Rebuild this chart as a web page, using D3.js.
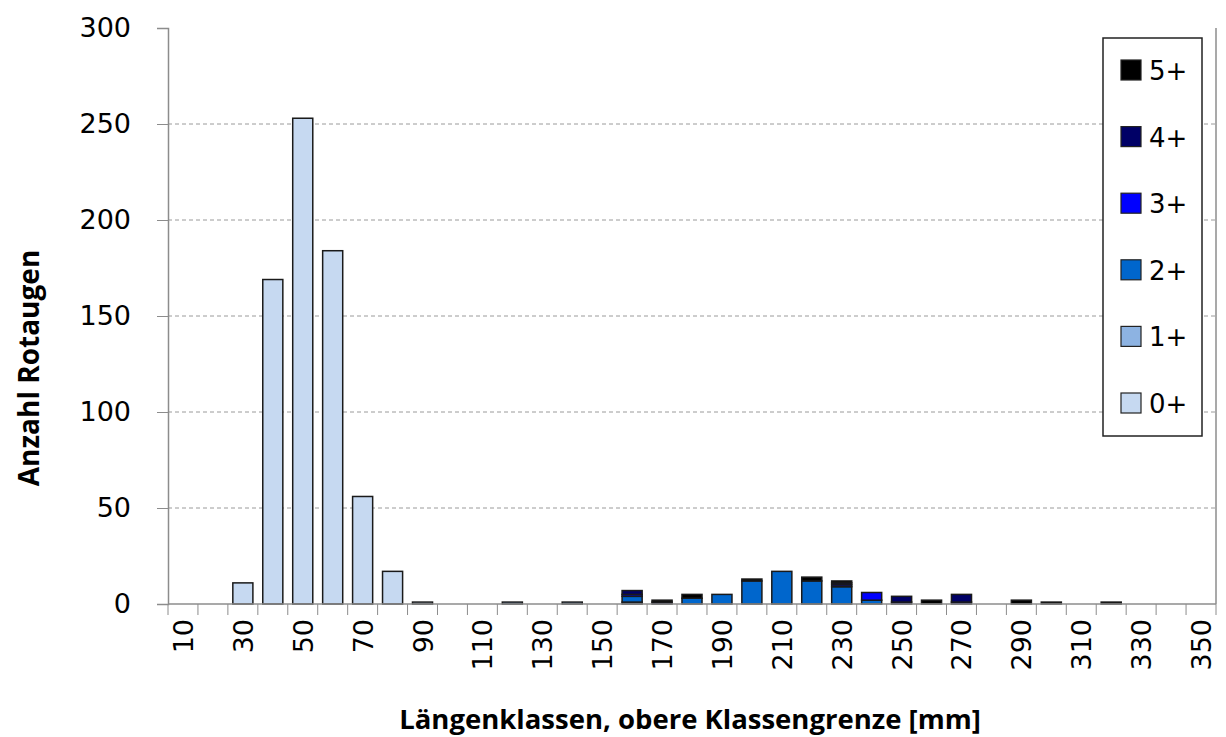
<!DOCTYPE html>
<html>
<head>
<meta charset="utf-8">
<script src="https://cdn.jsdelivr.net/npm/d3@7"></script>
<style>
  body { margin: 0; background: #fff; }
  svg { display: block; }
</style>
</head>
<body>
<svg id="chart"></svg>
<script>
// length classes (upper class limit, mm)
const categories = d3.range(10, 360, 10);

// counts per age group, one value per length class (10 ... 350)
const age0 = [0,0,11,169,253,184,56,17,1,0, 0,0,0,0,0,0,0,0,0,0, 0,0,0,0,0,0,0,0,0,0, 0,0,0,0,0];
const age1 = [0,0,0,0,0,0,0,0,0,0, 0,1,0,1,0,1,0,0,0,0, 0,0,0,0,0,0,0,0,0,0, 0,0,0,0,0];
const age2 = [0,0,0,0,0,0,0,0,0,0, 0,0,0,0,0,3,0,3,5,12, 17,12,9,2,0,0,0,0,0,0, 0,0,0,0,0];
const age3 = [0,0,0,0,0,0,0,0,0,0, 0,0,0,0,0,1,0,0,0,0, 0,0,1,4,1,0,1,0,0,0, 0,0,0,0,0];
const age4 = [0,0,0,0,0,0,0,0,0,0, 0,0,0,0,0,2,1,0,0,0, 0,0,1,0,3,0,4,0,0,0, 0,0,0,0,0];
const age5 = [0,0,0,0,0,0,0,0,0,0, 0,0,0,0,0,0,1,2,0,1, 0,2,1,0,0,2,0,0,2,1, 0,1,0,0,0];

const seriesNames = ["0+", "1+", "2+", "3+", "4+", "5+"];
const seriesColors = ["#c6d9f1", "#8db3e2", "#0066cc", "#0000ff", "#000066", "#000000"];
const yTicks = [0, 50, 100, 150, 200, 250, 300];
const xLabels = categories.filter((d, i) => i % 2 === 0);

const allSeries = [age0, age1, age2, age3, age4, age5];
const table = categories.map((c, i) => {
  const row = { cat: c };
  seriesNames.forEach((s, k) => row[s] = allSeries[k][i]);
  return row;
});

const svgWidth = 1226, svgHeight = 737;
const plotLeft = 168, plotRight = 1216, plotTop = 28, plotBottom = 604;

const svg = d3.select("#chart")
  .attr("width", svgWidth)
  .attr("height", svgHeight)
  .style("font-family", "'DejaVu Sans', Verdana, sans-serif");

const x = d3.scaleBand()
  .domain(categories)
  .range([plotLeft, plotRight])
  .paddingInner(0.33)
  .paddingOuter(0.165);

const y = d3.scaleLinear()
  .domain([0, 300])
  .range([plotBottom, plotTop]);

// dashed gridlines
svg.append("g")
  .selectAll("line")
  .data(yTicks.filter(d => d > 0 && d < 300))
  .enter()
  .append("line")
  .attr("x1", plotLeft)
  .attr("x2", plotRight)
  .attr("y1", d => y(d))
  .attr("y2", d => y(d))
  .attr("stroke", "#9a9a9a")
  .attr("stroke-dasharray", "4,3");

// right border of the plot area
svg.append("line")
  .attr("x1", plotRight).attr("x2", plotRight)
  .attr("y1", plotTop).attr("y2", plotBottom)
  .attr("stroke", "#8c8c8c")
  .attr("stroke-width", 1.5);

// stacked bars
const stacked = d3.stack().keys(seriesNames)(table);

svg.append("g")
  .selectAll("g")
  .data(stacked)
  .enter()
  .append("g")
  .attr("fill", (d, i) => seriesColors[i])
  .selectAll("rect")
  .data(d => d.filter(p => p[1] - p[0] > 0))
  .enter()
  .append("rect")
  .attr("x", d => x(d.data.cat))
  .attr("width", x.bandwidth())
  .attr("y", d => y(d[1]))
  .attr("height", d => y(d[0]) - y(d[1]))
  .attr("stroke", "#1a1a1a")
  .attr("stroke-width", 1.5);

// y axis
const yAxis = svg.append("g")
  .attr("transform", `translate(${plotLeft},0)`)
  .call(d3.axisLeft(y).tickValues(yTicks).tickSize(11).tickPadding(26));
yAxis.select(".domain").attr("stroke", "#8c8c8c").attr("stroke-width", 1.5);
yAxis.selectAll(".tick line").attr("stroke", "#8c8c8c");
yAxis.selectAll(".tick text")
  .attr("fill", "#000")
  .style("font-size", "27px")
  .style("font-family", "'DejaVu Sans', Verdana, sans-serif");

// x axis: baseline, ticks between categories, rotated labels
svg.append("line")
  .attr("x1", plotLeft).attr("x2", plotRight)
  .attr("y1", plotBottom).attr("y2", plotBottom)
  .attr("stroke", "#8c8c8c")
  .attr("stroke-width", 1.5);

const step = x.step();
svg.append("g")
  .selectAll("line")
  .data(categories.concat([null]))
  .enter()
  .append("line")
  .attr("x1", (d, i) => plotLeft + i * step)
  .attr("x2", (d, i) => plotLeft + i * step)
  .attr("y1", plotBottom)
  .attr("y2", plotBottom + 11)
  .attr("stroke", "#8c8c8c");

svg.append("g")
  .selectAll("text")
  .data(xLabels)
  .enter()
  .append("text")
  .attr("transform", d => `translate(${x(d) + x.bandwidth() / 2 + 10},619) rotate(-90)`)
  .attr("text-anchor", "end")
  .style("font-size", "27px")
  .text(d => d);

// axis titles
svg.append("text")
  .attr("transform", "translate(39,368) rotate(-90)")
  .attr("text-anchor", "middle")
  .style("font-family", "'Open Sans', sans-serif")
  .style("font-weight", "bold")
  .style("font-size", "28px")
  .text("Anzahl Rotaugen");

svg.append("text")
  .attr("x", 690)
  .attr("y", 729)
  .attr("text-anchor", "middle")
  .style("font-family", "'Open Sans', sans-serif")
  .style("font-weight", "bold")
  .style("font-size", "27.5px")
  .text("Längenklassen, obere Klassengrenze [mm]");

// legend
const legend = svg.append("g");
legend.append("rect")
  .attr("x", 1103).attr("y", 38)
  .attr("width", 99).attr("height", 398)
  .attr("fill", "#fff")
  .attr("stroke", "#222")
  .attr("stroke-width", 1.5);

const legendOrder = seriesNames.map((s, i) => i).reverse();
const items = legend.selectAll(".item")
  .data(legendOrder)
  .enter()
  .append("g")
  .attr("transform", (d, j) => `translate(1121,${70 + j * 66.6})`);

items.append("rect")
  .attr("x", 0).attr("y", -10)
  .attr("width", 20).attr("height", 20)
  .attr("fill", d => seriesColors[d])
  .attr("stroke", "#222")
  .attr("stroke-width", 1.2);

items.append("text")
  .attr("x", 28)
  .attr("y", 10)
  .style("font-size", "26px")
  .text(d => seriesNames[d]);
</script>
</body>
</html>
